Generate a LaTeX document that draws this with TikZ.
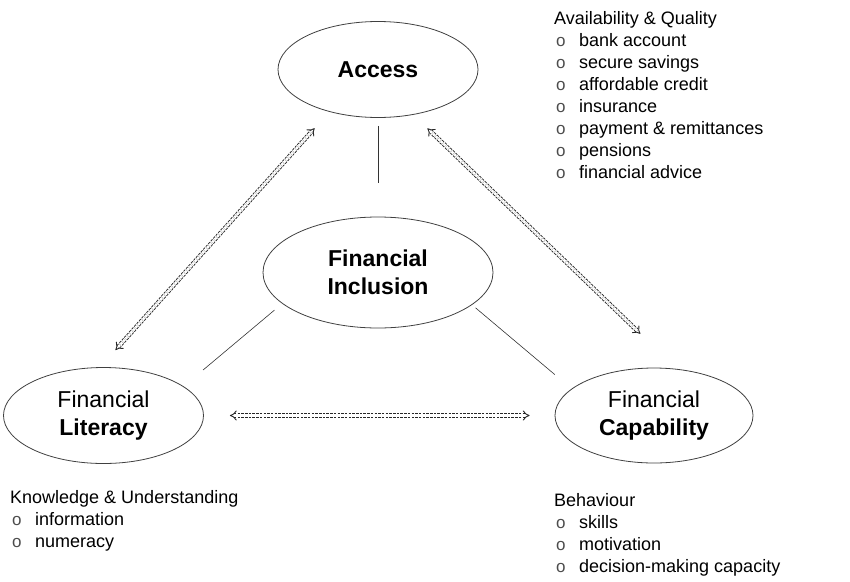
\documentclass[tikz,border=0pt]{standalone}
\usepackage{fontspec}
\setmainfont{Liberation Sans}
\usetikzlibrary{arrows.meta,shapes.geometric}

\tikzset{
  idea/.style={ellipse, draw=black!75, line width=0.8pt, inner sep=0pt,
    minimum width=200pt, minimum height=96pt, align=center,
    font=\fontsize{23}{28}\selectfont},
  link/.style={draw=black!80, line width=0.6pt},
  twoway/.style={draw=black!85, line width=0.9pt, double=white, double distance=2.6pt,
    dash pattern=on 2.5pt off 1.2pt,
    {Implies[length=5pt,width=11pt]}-{Implies[length=5pt,width=11pt]}},
  listing/.style={anchor=north west, align=left, inner sep=0pt,
    font=\fontsize{18}{22}\selectfont}
}
\newcommand{\bul}[1]{\makebox[25pt][l]{\hspace{2pt}\textcolor{black!70}{\fontsize{17}{17}\selectfont o}}#1}

\begin{document}
\begin{tikzpicture}[x=1pt,y=-1pt]
  \useasboundingbox (0,0) rectangle (850,581);

  \node[idea] (access) at (378,69.5) {\textbf{Access}};
  \node[idea, minimum width=230pt, minimum height=111pt] (incl) at (378,272.5)
    {\textbf{Financial}\\\textbf{Inclusion}};
  \node[idea] (lit) at (103.5,415.5) {Financial\\\textbf{Literacy}};
  \node[idea, minimum width=198pt, minimum height=95pt] (cap) at (654,415.5)
    {Financial\\\textbf{Capability}};

  \draw[link, shorten <=8pt, shorten >=34pt] (access.south) -- (incl.north);
  \draw[link, shorten <=10pt, shorten >=25.5pt] (incl.198) -- (lit.20);
  \draw[link, shorten <=4.5pt, shorten >=22pt] (incl.341.6) -- (cap.162.7);

  \draw[twoway, shorten <=23pt, shorten >=22pt] (lit.94.6) -- (access.221.7);
  \draw[twoway, shorten <=19.5pt, shorten >=50.6pt] (access.308) -- (cap.64.2);
  \draw[twoway, shorten <=26pt, shorten >=25pt] (lit.east |- cap.west) -- (cap.west);

  \node[listing] (avail) at (554,10.8) {Availability \& Quality\\
    \bul{bank account}\\
    \bul{secure savings}\\
    \bul{affordable credit}\\
    \bul{insurance}\\
    \bul{payment \& remittances}\\
    \bul{pensions}\\
    \bul{financial advice}};
  \node[listing] (know) at (10,490) {Knowledge \& Understanding\\
    \bul{information}\\
    \bul{numeracy}};
  \node[listing] (behav) at (554,493) {Behaviour\\
    \bul{skills}\\
    \bul{motivation}\\
    \bul{decision-making capacity}};
\end{tikzpicture}
\end{document}
